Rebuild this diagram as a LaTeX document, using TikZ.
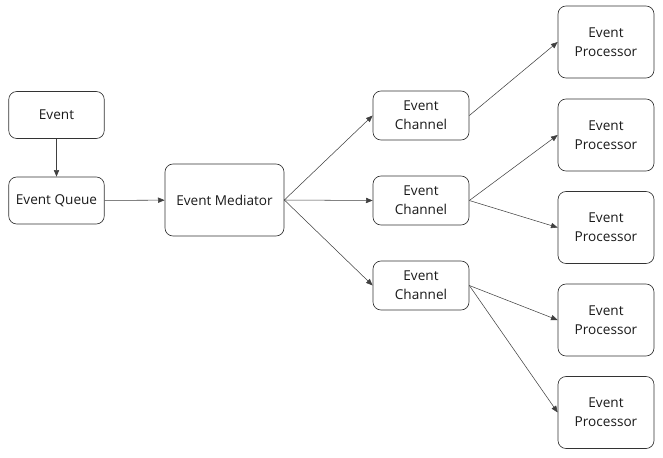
\documentclass[tikz,border=0pt]{standalone}
\usepackage{fontspec}
\setmainfont{Open Sans}
\usetikzlibrary{arrows.meta}
\begin{document}
\begin{tikzpicture}[x=0.75pt,y=-0.75pt,
  box/.style={draw=black!80,line width=0.5pt,rounded corners=6pt,align=center,inner sep=0pt,font=\fontsize{10.2}{14}\selectfont,text=black!90},
  conn/.style={draw=black!75,line width=0.4pt,-{Triangle[length=5pt,width=4pt]}}]
\path[use as bounding box] (0,0) rectangle (663,457);
\node[box,minimum width=95.5*0.75pt,minimum height=47*0.75pt] (ev) at (56.5,115) {Event};
\node[box,minimum width=95.5*0.75pt,minimum height=47*0.75pt] (eq) at (56.5,200.5) {Event Queue};
\node[box,minimum width=119*0.75pt,minimum height=72*0.75pt] (em) at (224.5,200) {Event Mediator};
\node[box,minimum width=96*0.75pt,minimum height=49*0.75pt] (c1) at (421,115.5) {Event\\Channel};
\node[box,minimum width=96*0.75pt,minimum height=49*0.75pt] (c2) at (421,200.5) {Event\\Channel};
\node[box,minimum width=96*0.75pt,minimum height=49*0.75pt] (c3) at (421,285.5) {Event\\Channel};
\node[box,minimum width=96*0.75pt,minimum height=72*0.75pt] (p1) at (606,42) {Event\\Processor};
\node[box,minimum width=96*0.75pt,minimum height=72*0.75pt] (p2) at (606,135) {Event\\Processor};
\node[box,minimum width=96*0.75pt,minimum height=72*0.75pt] (p3) at (606,227.5) {Event\\Processor};
\node[box,minimum width=96*0.75pt,minimum height=72*0.75pt] (p4) at (606,320) {Event\\Processor};
\node[box,minimum width=96*0.75pt,minimum height=72*0.75pt] (p5) at (606,412.5) {Event\\Processor};
\draw[conn] (ev) -- (eq);
\draw[conn] (eq) -- (em);
\draw[conn] (em.east) -- (c1.west);
\draw[conn] (em.east) -- (c2.west);
\draw[conn] (em.east) -- (c3.west);
\draw[conn] (c1.east) -- (p1.west);
\draw[conn] (c2.east) -- (p2.west);
\draw[conn] (c2.east) -- (p3.west);
\draw[conn] (c3.east) -- (p4.west);
\draw[conn] (c3.east) -- (p5.west);
\end{tikzpicture}
\end{document}
